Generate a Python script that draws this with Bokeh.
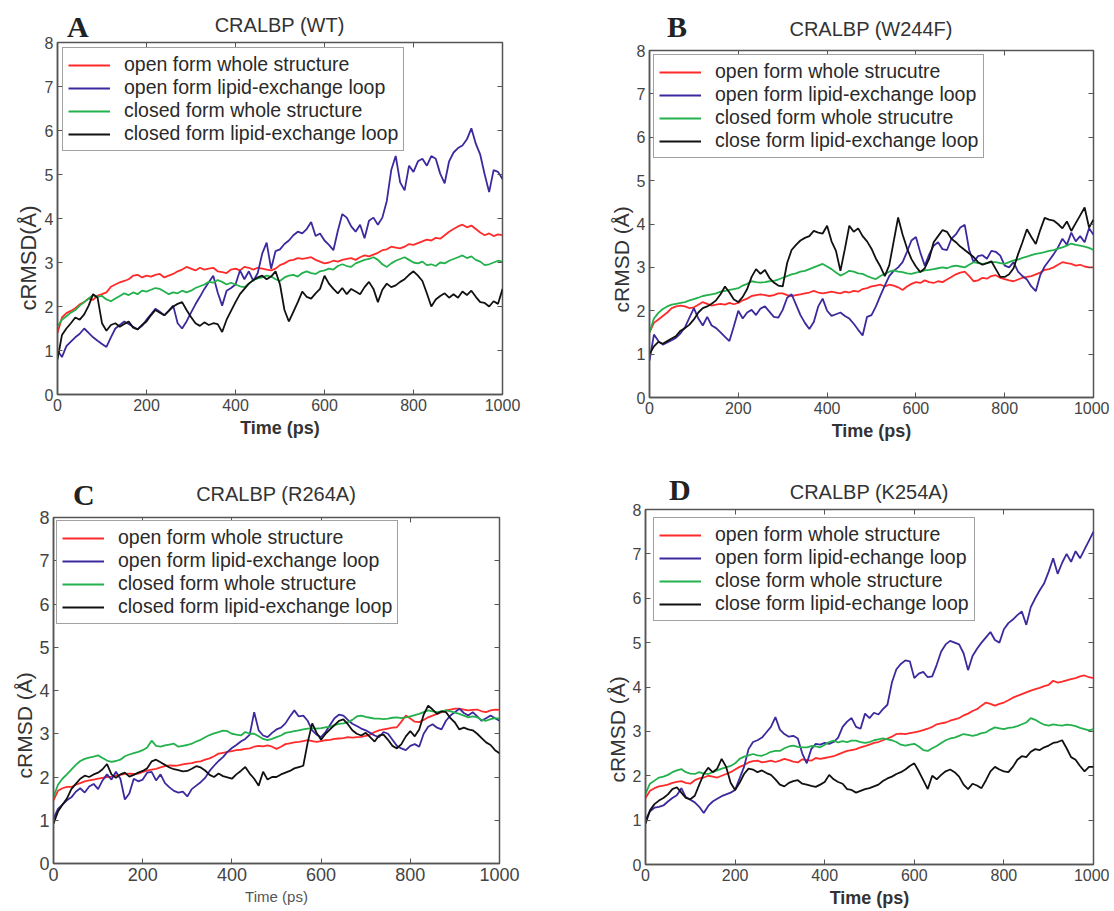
from bokeh.plotting import figure
from bokeh.layouts import column, row
from bokeh.models import (LinearAxis, Range1d, Legend, LegendItem, Title, Div,
                          FixedTicker, CustomJSTickFormatter)
from bokeh.embed import file_html
from bokeh.resources import INLINE

# ---------------- data (cRMSD in Angstrom, sampled every 10 ps) ----------------
TIME = list(range(0, 1001, 10))
X_TICKS = [0, 200, 400, 600, 800, 1000]
Y_TICKS = [0, 1, 2, 3, 4, 5, 6, 7, 8]

A_red = [1.40,1.75,1.85,1.90,1.96,2.05,2.10,2.18,2.15,2.25,
         2.28,2.32,2.45,2.50,2.55,2.58,2.62,2.70,2.72,2.66,
         2.70,2.68,2.72,2.74,2.66,2.70,2.74,2.80,2.84,2.90,
         2.86,2.82,2.88,2.84,2.86,2.88,2.80,2.78,2.76,2.84,
         2.86,2.82,2.90,2.88,2.84,2.88,2.86,2.84,2.82,2.86,
         2.94,2.98,3.04,3.06,3.10,3.08,3.10,3.12,3.06,3.02,
         2.98,3.00,3.04,3.02,3.06,3.08,3.10,3.06,3.12,3.16,
         3.14,3.18,3.22,3.28,3.30,3.36,3.34,3.32,3.36,3.42,
         3.40,3.44,3.48,3.52,3.50,3.56,3.54,3.62,3.70,3.76,
         3.82,3.86,3.80,3.84,3.76,3.68,3.62,3.66,3.60,3.64,3.62]
A_blue = [1.00,0.85,1.10,1.20,1.30,1.38,1.50,1.40,1.30,1.22,
          1.15,1.08,1.30,1.50,1.58,1.66,1.60,1.54,1.48,1.56,
          1.70,1.82,1.95,1.88,1.80,1.90,2.02,1.62,1.50,1.66,
          1.86,2.05,2.22,2.40,2.55,2.70,2.32,2.02,2.36,2.42,
          2.50,2.82,2.62,2.80,2.58,2.76,3.20,3.45,2.86,3.26,
          3.30,3.42,3.50,3.62,3.70,3.66,3.76,3.92,3.60,3.66,
          3.50,3.40,3.28,3.72,4.10,4.02,3.82,3.70,3.86,3.55,
          3.95,4.02,3.86,4.02,4.40,5.10,5.42,4.82,4.64,5.20,
          5.06,5.30,5.36,5.20,5.42,5.36,5.02,4.80,5.30,5.50,
          5.60,5.66,5.80,6.05,5.70,5.45,5.00,4.60,5.10,5.06,4.90]
A_green = [1.55,1.70,1.78,1.86,1.92,2.02,2.10,2.18,2.26,2.22,
           2.24,2.16,2.12,2.18,2.24,2.30,2.26,2.32,2.28,2.36,
           2.34,2.38,2.42,2.40,2.34,2.28,2.32,2.30,2.36,2.32,
           2.36,2.42,2.46,2.50,2.56,2.54,2.60,2.56,2.50,2.54,
           2.50,2.46,2.44,2.52,2.60,2.64,2.66,2.70,2.68,2.62,
           2.58,2.66,2.70,2.72,2.68,2.76,2.80,2.76,2.74,2.80,
           2.82,2.86,2.84,2.92,2.96,2.92,2.90,2.98,3.02,3.06,
           3.08,3.12,3.06,2.96,2.90,2.98,3.04,3.08,3.12,3.06,
           3.00,2.98,3.02,2.94,2.96,2.92,3.00,2.98,3.04,3.08,
           3.12,3.16,3.10,3.14,3.06,3.02,2.94,2.96,3.00,3.04,3.02]
A_black = [0.80,1.35,1.50,1.62,1.75,1.70,1.82,2.02,2.28,2.20,
           1.62,1.45,1.58,1.62,1.54,1.60,1.66,1.52,1.48,1.58,
           1.66,1.80,1.92,1.86,1.80,1.90,2.00,2.06,2.10,1.92,
           1.76,1.62,1.56,1.64,1.58,1.62,1.60,1.42,1.70,1.90,
           2.10,2.28,2.40,2.52,2.60,2.66,2.70,2.62,2.68,2.80,
           2.50,1.92,1.66,1.88,2.10,2.34,2.22,2.18,2.30,2.40,
           2.70,2.52,2.40,2.30,2.42,2.28,2.40,2.34,2.28,2.44,
           2.56,2.40,2.10,2.38,2.52,2.44,2.48,2.56,2.62,2.72,
           2.80,2.70,2.58,2.30,2.00,2.16,2.24,2.30,2.20,2.28,
           2.20,2.34,2.26,2.36,2.22,2.10,2.08,2.00,2.12,2.06,2.40]

B_red = [1.50,1.72,1.80,1.88,1.96,2.06,2.10,2.12,2.10,2.06,
         2.08,2.14,2.20,2.16,2.12,2.14,2.16,2.14,2.18,2.15,
         2.18,2.24,2.28,2.34,2.36,2.38,2.36,2.34,2.36,2.40,
         2.40,2.36,2.34,2.36,2.38,2.40,2.42,2.46,2.42,2.40,
         2.42,2.44,2.42,2.40,2.44,2.42,2.46,2.44,2.50,2.52,
         2.56,2.58,2.60,2.56,2.60,2.58,2.54,2.48,2.56,2.62,
         2.66,2.64,2.70,2.66,2.64,2.68,2.66,2.72,2.78,2.84,
         2.88,2.90,2.80,2.68,2.70,2.76,2.74,2.80,2.82,2.76,
         2.73,2.70,2.68,2.72,2.76,2.78,2.80,2.84,2.88,2.94,
         2.96,3.00,3.06,3.12,3.10,3.08,3.04,3.06,3.02,3.00,3.00]
B_blue = [0.85,1.45,1.30,1.22,1.27,1.32,1.38,1.48,1.62,1.84,
          2.06,1.82,1.66,1.86,1.66,1.60,1.50,1.40,1.30,1.64,
          2.00,1.82,1.96,2.02,1.90,2.05,2.10,1.98,1.86,1.84,
          2.02,2.30,2.38,2.14,1.90,1.72,1.58,1.74,2.10,2.28,
          2.00,1.88,1.92,1.96,1.88,1.82,1.70,1.56,1.43,1.86,
          1.90,2.10,2.35,2.58,2.80,2.92,3.00,3.12,3.36,3.62,
          3.70,3.34,3.04,3.30,3.50,3.58,3.42,3.40,3.66,3.76,
          3.92,3.98,3.40,3.12,3.26,3.28,3.20,3.38,3.36,3.27,
          3.04,3.00,3.12,2.90,2.80,2.72,2.56,2.45,2.82,3.02,
          3.16,3.30,3.46,3.66,3.52,3.80,3.60,3.72,3.58,3.90,3.75]
B_green = [1.50,1.82,1.95,2.04,2.10,2.14,2.16,2.18,2.20,2.24,
           2.27,2.30,2.34,2.36,2.38,2.40,2.44,2.46,2.48,2.50,
           2.52,2.58,2.62,2.68,2.66,2.65,2.66,2.68,2.69,2.72,
           2.76,2.80,2.84,2.86,2.90,2.92,2.96,3.00,3.04,3.08,
           3.02,2.96,2.88,2.81,2.86,2.92,2.90,2.86,2.85,2.80,
           2.76,2.73,2.80,2.85,2.90,2.93,2.90,2.89,2.86,2.85,
           2.88,2.90,2.93,2.94,2.96,2.98,3.00,2.98,3.02,3.04,
           3.02,3.00,3.06,3.12,3.10,3.08,3.10,3.12,3.12,3.10,
           3.08,3.12,3.16,3.18,3.22,3.25,3.28,3.31,3.33,3.35,
           3.38,3.40,3.43,3.46,3.50,3.55,3.52,3.50,3.48,3.45,3.40]
B_black = [1.00,1.18,1.28,1.24,1.30,1.36,1.42,1.54,1.60,1.68,
           1.80,1.96,2.06,2.10,2.16,2.24,2.38,2.56,2.42,2.26,
           2.20,2.32,2.50,2.78,2.96,2.85,2.94,2.76,2.65,2.58,
           2.56,3.10,3.40,3.52,3.62,3.68,3.72,3.84,3.80,3.78,
           3.96,3.60,3.38,2.92,3.42,3.96,3.82,3.90,3.72,3.60,
           3.43,3.20,3.02,2.80,3.05,3.60,4.15,3.76,3.44,3.19,
           3.02,2.89,2.98,3.20,3.58,3.72,3.86,3.82,3.66,3.58,
           3.48,3.40,3.32,3.24,3.12,3.06,3.10,3.14,2.96,2.78,
           2.78,2.84,2.98,3.30,3.58,3.88,3.70,3.54,3.86,4.14,
           4.10,4.08,4.00,3.90,4.06,3.84,4.02,4.20,4.38,3.92,4.10]

C_red = [1.46,1.68,1.74,1.77,1.77,1.82,1.86,1.90,1.92,1.94,
         1.96,1.98,2.00,2.01,2.03,2.05,2.07,2.08,2.07,2.08,
         2.12,2.15,2.17,2.19,2.22,2.25,2.27,2.26,2.27,2.29,
         2.31,2.32,2.35,2.36,2.40,2.43,2.48,2.54,2.56,2.58,
         2.60,2.62,2.63,2.65,2.66,2.70,2.72,2.71,2.73,2.70,
         2.65,2.70,2.76,2.78,2.80,2.81,2.83,2.85,2.83,2.81,
         2.83,2.85,2.86,2.88,2.89,2.90,2.92,2.91,2.92,2.93,
         2.95,2.98,3.04,3.08,3.10,3.12,3.14,3.15,3.28,3.42,
         3.35,3.28,3.27,3.32,3.38,3.42,3.46,3.50,3.54,3.56,
         3.58,3.58,3.56,3.54,3.55,3.56,3.52,3.50,3.54,3.56,3.55]
C_blue = [1.04,1.26,1.36,1.46,1.53,1.66,1.74,1.64,1.78,1.84,
          1.72,1.92,2.06,1.94,2.12,1.96,1.48,1.62,1.96,1.90,
          1.94,2.10,2.12,1.92,2.06,1.86,1.76,1.68,1.64,1.66,
          1.55,1.72,1.80,1.88,1.98,2.14,2.26,2.37,2.46,2.58,
          2.67,2.74,2.82,2.88,2.98,3.50,3.08,2.96,2.92,3.02,
          3.10,3.14,3.24,3.40,3.54,3.40,3.42,3.30,3.08,2.98,
          2.92,3.04,3.20,3.36,3.44,3.42,3.32,3.23,3.18,3.12,
          3.08,3.02,2.96,2.92,3.04,3.00,2.86,2.72,2.66,2.62,
          2.72,2.76,2.70,3.00,3.16,3.22,3.14,3.10,3.30,3.42,
          3.50,3.58,3.48,3.42,3.50,3.40,3.30,3.36,3.42,3.36,3.30]
C_green = [1.54,1.82,1.96,2.06,2.17,2.28,2.37,2.42,2.45,2.47,
           2.50,2.44,2.38,2.35,2.37,2.40,2.48,2.52,2.55,2.58,
           2.62,2.68,2.84,2.72,2.70,2.73,2.75,2.77,2.70,2.72,
           2.74,2.77,2.82,2.86,2.92,2.97,3.01,3.04,3.07,3.06,
           3.00,2.98,2.96,3.04,3.00,3.00,2.94,2.88,2.85,2.88,
           2.92,2.96,3.02,3.04,3.06,3.08,3.10,3.12,3.13,3.12,
           3.13,3.15,3.16,3.20,3.23,3.24,3.27,3.32,3.40,3.42,
           3.39,3.37,3.35,3.35,3.34,3.35,3.37,3.38,3.36,3.38,
           3.40,3.43,3.46,3.50,3.54,3.52,3.50,3.52,3.54,3.52,
           3.49,3.46,3.42,3.38,3.40,3.38,3.32,3.30,3.34,3.36,3.35]
C_black = [0.92,1.20,1.36,1.50,1.72,1.84,1.96,2.03,2.00,2.06,
           2.10,2.18,2.30,2.06,1.98,2.06,2.10,2.01,2.05,2.10,
           2.14,2.20,2.36,2.40,2.34,2.28,2.22,2.18,2.16,2.13,
           2.14,2.19,2.25,2.22,2.15,2.05,2.00,2.08,2.02,1.99,
           1.96,2.06,2.14,2.23,2.08,1.96,1.80,2.12,1.94,2.00,
           2.00,2.06,2.10,2.14,2.20,2.23,2.26,2.80,3.24,3.02,
           2.86,3.00,3.10,3.20,3.30,3.33,3.22,3.08,3.00,2.96,
           3.02,2.92,2.82,2.96,2.98,2.86,2.72,2.66,2.76,2.94,
           3.06,2.94,3.10,3.44,3.65,3.56,3.46,3.52,3.50,3.36,
           3.26,3.10,3.14,3.10,3.08,3.00,2.90,2.80,2.74,2.62,2.55]

D_red = [1.50,1.66,1.72,1.76,1.78,1.80,1.84,1.86,1.88,1.84,
         1.82,1.90,1.94,1.96,2.00,1.98,1.96,2.00,2.04,2.08,
         2.14,2.20,2.24,2.30,2.33,2.34,2.30,2.32,2.34,2.31,
         2.34,2.38,2.35,2.32,2.30,2.37,2.35,2.34,2.40,2.38,
         2.40,2.42,2.44,2.48,2.52,2.56,2.58,2.60,2.64,2.67,
         2.70,2.74,2.76,2.80,2.84,2.88,2.94,2.95,2.94,2.96,
         2.98,3.00,3.03,3.06,3.10,3.16,3.18,3.20,3.24,3.27,
         3.30,3.36,3.40,3.46,3.50,3.58,3.65,3.62,3.58,3.62,
         3.65,3.70,3.76,3.80,3.84,3.88,3.92,3.95,3.98,4.02,
         4.05,4.14,4.10,4.12,4.15,4.18,4.20,4.24,4.26,4.22,4.20]
D_blue = [1.00,1.20,1.28,1.30,1.33,1.42,1.50,1.56,1.72,1.52,
          1.46,1.40,1.30,1.16,1.32,1.42,1.48,1.54,1.58,1.62,
          1.68,1.94,2.20,2.60,2.76,2.80,2.86,2.98,3.10,3.32,
          3.04,2.94,2.88,2.90,2.84,2.50,2.28,2.60,2.72,2.70,
          2.74,2.72,2.76,2.86,3.10,3.22,3.30,3.10,3.06,3.40,
          3.30,3.42,3.38,3.50,3.60,4.10,4.40,4.52,4.60,4.58,
          4.20,4.30,4.34,4.22,4.24,4.50,4.80,4.96,5.04,5.00,
          4.96,4.76,4.38,4.70,4.86,5.00,5.12,5.24,5.06,5.00,
          5.30,5.44,5.52,5.62,5.70,5.40,5.80,6.00,6.18,6.34,
          6.60,6.90,6.55,6.80,7.00,6.82,7.06,6.90,7.10,7.30,7.50]
D_green = [1.60,1.82,1.89,1.96,1.98,2.02,2.08,2.12,2.15,2.08,
           2.05,2.04,2.08,2.05,2.04,2.08,2.12,2.16,2.19,2.22,
           2.28,2.38,2.43,2.46,2.49,2.46,2.45,2.49,2.54,2.56,
           2.56,2.62,2.66,2.68,2.65,2.64,2.64,2.67,2.66,2.64,
           2.70,2.76,2.79,2.75,2.78,2.76,2.79,2.79,2.76,2.74,
           2.76,2.80,2.82,2.84,2.82,2.80,2.76,2.70,2.68,2.70,
           2.72,2.66,2.58,2.56,2.62,2.67,2.74,2.80,2.84,2.86,
           2.90,2.94,2.92,2.90,2.92,2.96,2.98,3.04,3.09,3.07,
           3.05,3.08,3.09,3.12,3.16,3.20,3.30,3.26,3.20,3.15,
           3.13,3.16,3.14,3.13,3.15,3.14,3.12,3.08,3.05,3.02,3.05]
D_black = [0.92,1.22,1.36,1.44,1.50,1.58,1.70,1.74,1.62,1.50,
           1.47,1.55,1.80,2.04,2.18,2.08,2.16,2.38,2.20,1.84,
           1.68,1.84,2.04,2.16,2.14,2.08,2.12,2.06,2.02,1.92,
           1.80,1.76,1.84,1.88,1.90,1.82,1.80,1.77,1.75,1.80,
           1.86,2.02,1.92,1.86,1.82,1.70,1.68,1.62,1.66,1.70,
           1.72,1.76,1.80,1.88,1.94,1.98,2.04,2.08,2.14,2.22,
           2.28,2.10,1.90,1.70,2.00,1.92,2.02,2.10,2.14,2.08,
           1.98,1.80,1.70,1.82,1.78,1.72,1.90,2.10,2.20,2.14,
           2.10,2.08,2.20,2.36,2.44,2.42,2.54,2.60,2.58,2.64,
           2.68,2.74,2.76,2.80,2.62,2.42,2.36,2.22,2.10,2.20,2.20]

LABELS_A = ["open form whole structure", "open form lipid-exchange loop",
            "closed form whole structure", "closed form lipid-exchange loop"]
LABELS_B = ["open form whole strucutre", "open form lipid-exchange loop",
            "closed form whole strucutre", "close form lipid-exchange loop"]
LABELS_C = LABELS_A
LABELS_D = ["open form whole structure", "open form lipid-echange loop",
            "close form whole structure", "close form lipid-echange loop"]

COLORS = ["#ff2b2b", "#3b2a9e", "#22b14c", "#111111"]
SANS = "Liberation Sans"
SERIF = "Liberation Serif"


def header(letter, title, width, height, letter_left, letter_top,
           frame_left, frame_w, title_top):
    html = (
        f'<div style="position:relative;width:{width}px;height:{height}px;overflow:visible;">'
        f'<span style="position:absolute;left:{letter_left}px;top:{letter_top}px;'
        f"font-family:'{SERIF}';font-weight:bold;font-size:30px;line-height:1;"
        f'color:#222222;">{letter}</span>'
        f'<span style="position:absolute;left:{frame_left}px;width:{frame_w}px;'
        f"top:{title_top}px;text-align:center;font-family:'{SANS}';font-size:20px;"
        f'line-height:1;color:#333333;white-space:nowrap;">{title}</span>'
        '</div>')
    return Div(text=html, width=width, height=height, margin=0,
               styles={"overflow": "visible"})


def panel(series, labels, frame_w, frame_h, borders, ylabel, ylabel_size,
          ylabel_offset, xlabel_bold=True, xlabel_size="18px", tick_size="16px",
          legend_margin=5):
    left, right, top, bottom = borders
    p = figure(frame_width=frame_w, frame_height=frame_h,
               min_border_left=left, min_border_right=right,
               min_border_top=top, min_border_bottom=bottom,
               x_range=Range1d(0, 1000), y_range=Range1d(0, 8),
               output_backend="svg", toolbar_location=None, tools="")
    p.background_fill_color = "white"
    p.border_fill_color = None
    p.outline_line_color = "#555555"
    p.outline_line_width = 1.5
    p.grid.visible = False

    for ax in (p.xaxis[0], p.yaxis[0]):
        ax.major_tick_in = 5
        ax.major_tick_out = 0
        ax.minor_tick_in = 0
        ax.minor_tick_out = 0
        ax.axis_line_color = "#555555"
        ax.axis_line_width = 1.5
        ax.major_tick_line_color = "#555555"
        ax.major_label_text_font = SANS
        ax.major_label_text_font_size = tick_size
        ax.major_label_text_color = "#444444"
        ax.major_label_standoff = 4
        ax.axis_label_standoff = 4
        ax.axis_label_text_font = SANS
        ax.axis_label_text_color = "#333333"
    p.xaxis.ticker = FixedTicker(ticks=X_TICKS)
    p.yaxis.ticker = FixedTicker(ticks=Y_TICKS)
    p.xaxis.axis_label = "Time (ps)"
    p.xaxis.axis_label_text_font_size = xlabel_size
    p.xaxis.axis_label_text_font_style = "bold" if xlabel_bold else "normal"
    if not xlabel_bold:
        p.xaxis.axis_label_text_color = "#555555"

    blank = CustomJSTickFormatter(code="return ''")
    top_ax = LinearAxis(ticker=FixedTicker(ticks=X_TICKS), formatter=blank,
                        major_tick_in=5, major_tick_out=0, minor_tick_in=0,
                        minor_tick_out=0, axis_line_color=None,
                        major_tick_line_color="#555555", major_label_standoff=0)
    right_ax = LinearAxis(ticker=FixedTicker(ticks=Y_TICKS), formatter=blank,
                          major_tick_in=5, major_tick_out=0, minor_tick_in=0,
                          minor_tick_out=0, axis_line_color=None,
                          major_tick_line_color="#555555", major_label_standoff=0)
    p.add_layout(top_ax, "above")
    p.add_layout(right_ax, "right")

    # y-axis label (sits a little below the middle of the axis, as in the original)
    p.add_layout(Title(text=ylabel, align="left", offset=ylabel_offset,
                       text_font=SANS, text_font_size=ylabel_size,
                       text_font_style="normal", text_color="#333333",
                       standoff=2), "left")

    items = []
    for vals, lab, col in zip(series, labels, COLORS):
        r = p.line(TIME, vals, line_color=col, line_width=1.8)
        items.append(LegendItem(label=lab, renderers=[r]))
    leg = Legend(items=items, location="top_left", margin=legend_margin,
                 padding=5, spacing=0, label_standoff=14, glyph_width=42,
                 glyph_height=20, label_height=20,
                 label_text_font=SANS, label_text_font_size="19.5px",
                 label_text_color="#2a2a2a",
                 border_line_color="#444444", border_line_width=1.3,
                 background_fill_color="white", background_fill_alpha=1.0)
    p.add_layout(leg)
    return p


# ----- panel A  (frame x 57-502, y 42-394) -----
hA = header("A", "CRALBP (WT)", 560, 30, 67, 12, 57, 445, 15)
pA = panel([A_red, A_blue, A_green, A_black], LABELS_A, 445, 352,
           (57, 58, 12, 52), "cRMSD(Å)", "22px", 84)
# ----- panel B  (frame x 649-1093, y 50-397) -----
hB = header("B", "CRALBP (W244F)", 549, 38, 107, 12, 89, 444, 19)
pB = panel([B_red, B_blue, B_green, B_black], LABELS_B, 444, 347,
           (89, 16, 12, 49), "cRMSD (Å)", "21px", 85, legend_margin=4)
# ----- panel C  (frame x 53-499, y 517-863) -----
hC = header("C", "CRALBP (R264A)", 560, 59, 73, 34, 53, 446, 38)
pC = panel([C_red, C_blue, C_green, C_black], LABELS_C, 446, 346,
           (53, 61, 12, 45), "cRMSD (Å)", "21px", 85, xlabel_bold=False,
           xlabel_size="15px", tick_size="18px", legend_margin=3)
# ----- panel D  (frame x 645-1093, y 509-864) -----
hD = header("D", "CRALBP (K254A)", 549, 51, 109, 29, 85, 448, 36)
pD = panel([D_red, D_blue, D_green, D_black], LABELS_D, 448, 355,
           (85, 16, 12, 44), "cRMSD (Å)", "21px", 82, legend_margin=8)

layout = column(row(column(hA, pA), column(hB, pB)),
                row(column(hC, pC), column(hD, pD)))
open("out.html", "w").write(file_html(layout, INLINE))
